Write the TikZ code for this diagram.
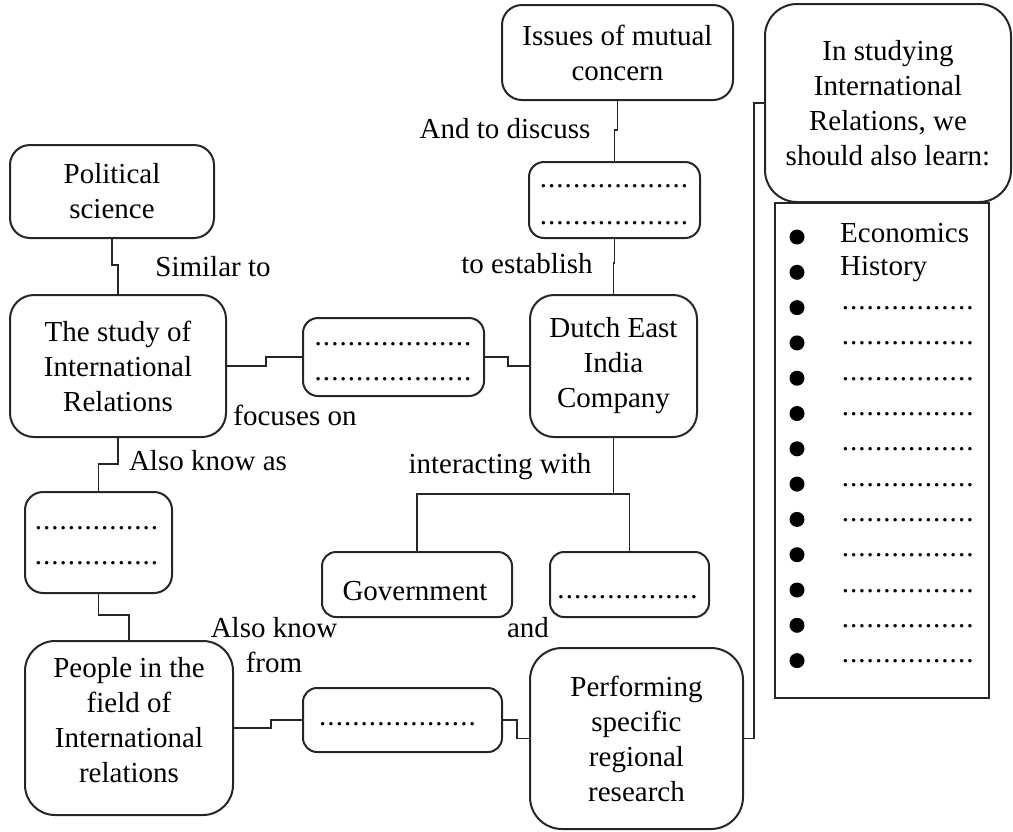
\documentclass[tikz,border=0pt]{standalone}
\usepackage{fontspec}
\setmainfont{Liberation Serif}
\newcommand{\dotrow}[1]{\hbox to #1{\cleaders\hbox to 8.3pt{\hss.\hss}\hfill}}
\tikzset{
  every node/.style={font=\fontsize{29}{35}\selectfont, inner sep=0pt, text=black},
  rbox/.style={draw=black!85, line width=2pt, align=center},
  conn/.style={draw=black!85, line width=1.8pt},
  lbl/.style={anchor=base},
  dotsrow/.style={anchor=base},
  bullet/.style={circle, fill=black, minimum size=15pt},
}
\begin{document}
\begin{tikzpicture}[x=1pt,y=-1pt]
\useasboundingbox (0,0) rectangle (1013,831);

% boxes
\node[rbox, minimum width=204pt, minimum height=93pt, rounded corners=20pt] (ps) at (112,191.5) {Political\\science};
\node[rbox, minimum width=216pt, minimum height=142pt, rounded corners=24pt] (ir) at (118,366) {The study of\\International\\Relations};
\node[rbox, minimum width=181pt, minimum height=78pt, rounded corners=15pt] (d1) at (393.5,357) {};
\node[rbox, minimum width=167pt, minimum height=142pt, rounded corners=24pt] (dutch) at (613.5,366) {Dutch East\\India\\Company};
\node[rbox, minimum width=231pt, minimum height=95pt, rounded corners=20pt] (issues) at (617.5,52.5) {Issues of mutual\\concern};
\node[rbox, minimum width=171pt, minimum height=76pt, rounded corners=15pt] (d2) at (614.5,200) {};
\node[rbox, minimum width=190pt, minimum height=65pt, rounded corners=14pt] (gov) at (417,584.5) {};
\node[rbox, minimum width=159pt, minimum height=65pt, rounded corners=14pt] (d3) at (629.5,584.5) {};
\node[rbox, minimum width=147pt, minimum height=101pt, rounded corners=18pt] (d5) at (98.5,542.5) {};
\node[rbox, minimum width=208pt, minimum height=174pt, rounded corners=30pt] (people) at (129,728) {};
\node[rbox, minimum width=199pt, minimum height=64pt, rounded corners=14pt] (d4) at (402.5,720) {};
\node[rbox, minimum width=213pt, minimum height=181pt, rounded corners=32pt] (perf) at (636.5,738.5) {Performing\\specific\\regional\\research};
\node[rbox, minimum width=246pt, minimum height=198pt, rounded corners=32pt] (study) at (888,103) {In studying\\International\\Relations, we\\should also learn:};
\node[draw=black!85, line width=1.8pt, minimum width=214pt, minimum height=495pt] (list) at (882,450.5) {};

% texts placed separately
\node[anchor=base] (govt) at (415,600) {Government};
\node[align=center] (peoplet) at (129,720) {People in the\\field of\\International\\relations};

% dotted rows in boxes
\node[dotsrow] (d1a) at (393,345) {\dotrow{165pt}};
\node[dotsrow] (d1b) at (393,380) {\dotrow{165pt}};
\node[dotsrow] (d2a) at (614,187) {\dotrow{152pt}};
\node[dotsrow] (d2b) at (614,224) {\dotrow{152pt}};
\node[dotsrow] (d5a) at (96.5,529) {\dotrow{127pt}};
\node[dotsrow] (d5b) at (96.5,564) {\dotrow{127pt}};
\node[dotsrow] (d3a) at (627.5,598) {\dotrow{145pt}};
\node[dotsrow] (d4a) at (397.5,725) {\dotrow{165pt}};

% list
\foreach \i in {0,...,12}{
  \pgfmathsetmacro{\yy}{237+35.3*\i}
  \node[bullet] (bul\i) at (797,\yy) {};
  \ifnum\i>1
    \node[anchor=base west] (item\i) at (840,\yy+2) {\dotrow{135pt}};
  \fi
}
\node[anchor=base west] (item0) at (840,242) {Economics};
\node[anchor=base west] (item1) at (840,275) {History};

% labels
\node[lbl] (simto) at (213,276) {Similar to};
\node[lbl] (focus) at (295,425) {focuses on};
\node[lbl] (discuss) at (505,138) {And to discuss};
\node[lbl] (estab) at (527,273) {to establish};
\node[lbl] (akaas) at (208,470) {Also know as};
\node[lbl] (inter) at (500,473) {interacting with};
\node[lbl] (akn1) at (274,637) {Also know};
\node[lbl] (akn2) at (274,672) {from};
\node[lbl] (andl) at (528,637) {and};

% connectors
\draw[conn] (ps.south) -- (ps.south |- 0,265) -- (ir.north |- 0,265) -- (ir.north);
\draw[conn] (ir.east) -- ++(39,0) |- (d1.west);
\draw[conn] (d1.east) -- ++(23,0) |- (dutch.west);
\draw[conn] (issues.south) -- (issues.south |- 0,130) -- (d2.north |- 0,130) -- (d2.north);
\draw[conn] (d2.south) -- (d2.south |- 0,263) -- (dutch.north |- 0,263) -- (dutch.north);
\draw[conn] (dutch.south) -- (dutch.south |- 0,494);
\draw[conn] (gov.north) -- (gov.north |- 0,494) -- (d3.north |- 0,494) -- (d3.north);
\draw[conn] (ir.south) -- (ir.south |- 0,464) -- (d5.north |- 0,464) -- (d5.north);
\draw[conn] (d5.south) -- (d5.south |- 0,615) -- (people.north |- 0,615) -- (people.north);
\draw[conn] (people.east) -- ++(37,0) |- (d4.west);
\draw[conn] (d4.east) -- ++(14,0) |- (perf.west);
\draw[conn] (perf.east) -- ++(10,0) |- (study.west);
\end{tikzpicture}
\end{document}
